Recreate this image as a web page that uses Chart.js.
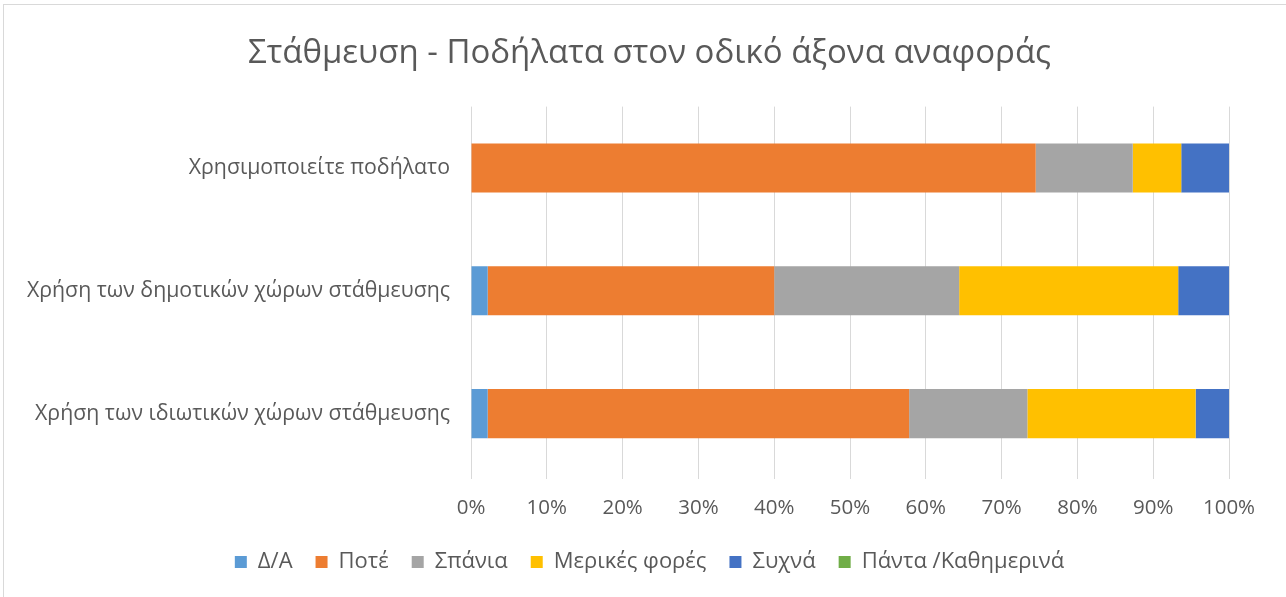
<!DOCTYPE html>
<html>
<head>
<meta charset="utf-8">
<script src="https://cdn.jsdelivr.net/npm/chart.js@4/dist/chart.umd.min.js"></script>
<style>
  html, body { margin: 0; padding: 0; background: #fff; }
  #wrap { position: relative; width: 1286px; height: 597px; }
  #frame { position: absolute; left: 3px; top: 4px; width: 1290px; height: 600px; border: 1px solid #d9d9d9; box-sizing: border-box; pointer-events: none; }
</style>
</head>
<body>
<div id="wrap">
  <canvas id="chart" width="1286" height="597"></canvas>
  <div id="frame"></div>
</div>
<script>
const categories = [
  "Χρησιμοποιείτε ποδήλατο",
  "Χρήση των δημοτικών χώρων στάθμευσης",
  "Χρήση των ιδιωτικών χώρων στάθμευσης"
];
const seriesNames = ["Δ/Α", "Ποτέ", "Σπάνια", "Μερικές φορές", "Συχνά", "Πάντα /Καθημερινά"];
const colors = ["#5b9bd5", "#ed7d31", "#a5a5a5", "#ffc000", "#4472c4", "#70ad47"];

// percentages per category
const na        = [0.0, 2.2, 2.2];
const never     = [74.5, 37.8, 55.6];
const rarely    = [12.8, 24.4, 15.6];
const sometimes = [6.4, 28.9, 22.2];
const often     = [6.3, 6.7, 4.4];
const always    = [0.0, 0.0, 0.0];

const xTicks = [0, 10, 20, 30, 40, 50, 60, 70, 80, 90, 100];

const allValues = [na, never, rarely, sometimes, often, always];
const FONT = "'Open Sans', 'Noto Sans', sans-serif";

const datasets = seriesNames.map((name, i) => ({
  label: name,
  data: allValues[i],
  backgroundColor: colors[i],
  borderWidth: 0,
  barPercentage: 0.4,
  categoryPercentage: 1.0
}));

new Chart(document.getElementById("chart"), {
  type: "bar",
  data: { labels: categories, datasets: datasets },
  options: {
    indexAxis: "y",
    responsive: false,
    animation: false,
    layout: { padding: { left: 70, right: 57, top: 10, bottom: 14 } },
    scales: {
      x: {
        stacked: true,
        min: 0,
        max: 100,
        afterBuildTicks: (axis) => { axis.ticks = xTicks.map(v => ({ value: v })); },
        afterFit: (s) => { s.height = 53; },
        grid: { color: "#d9d9d9", lineWidth: 1, drawTicks: true, tickLength: 4 },
        border: { display: false },
        ticks: {
          color: "#595959",
          font: { family: FONT, size: 20.5 },
          padding: 17,
          callback: (v) => v + "%"
        }
      },
      y: {
        stacked: true,
        grid: { display: false },
        border: { display: false },
        afterFit: (s) => {
          s.width = 401;
          // long labels run past the left edge of the axis box, don't clip them
          s._computeLabelArea = () => undefined;
        },
        ticks: {
          color: "#595959",
          font: { family: FONT, size: 21.3 },
          padding: 13
        }
      }
    },
    plugins: {
      title: {
        display: true,
        text: "Στάθμευση - Ποδήλατα στον οδικό άξονα αναφοράς",
        color: "#595959",
        font: { family: FONT, size: 33, weight: "normal" },
        padding: { top: 24, bottom: 33 }
      },
      legend: {
        position: "bottom",
        labels: {
          color: "#595959",
          font: { family: FONT, size: 22 },
          boxWidth: 12,
          boxHeight: 12,
          padding: 23
        }
      },
      tooltip: { enabled: false }
    }
  }
});
</script>
</body>
</html>
